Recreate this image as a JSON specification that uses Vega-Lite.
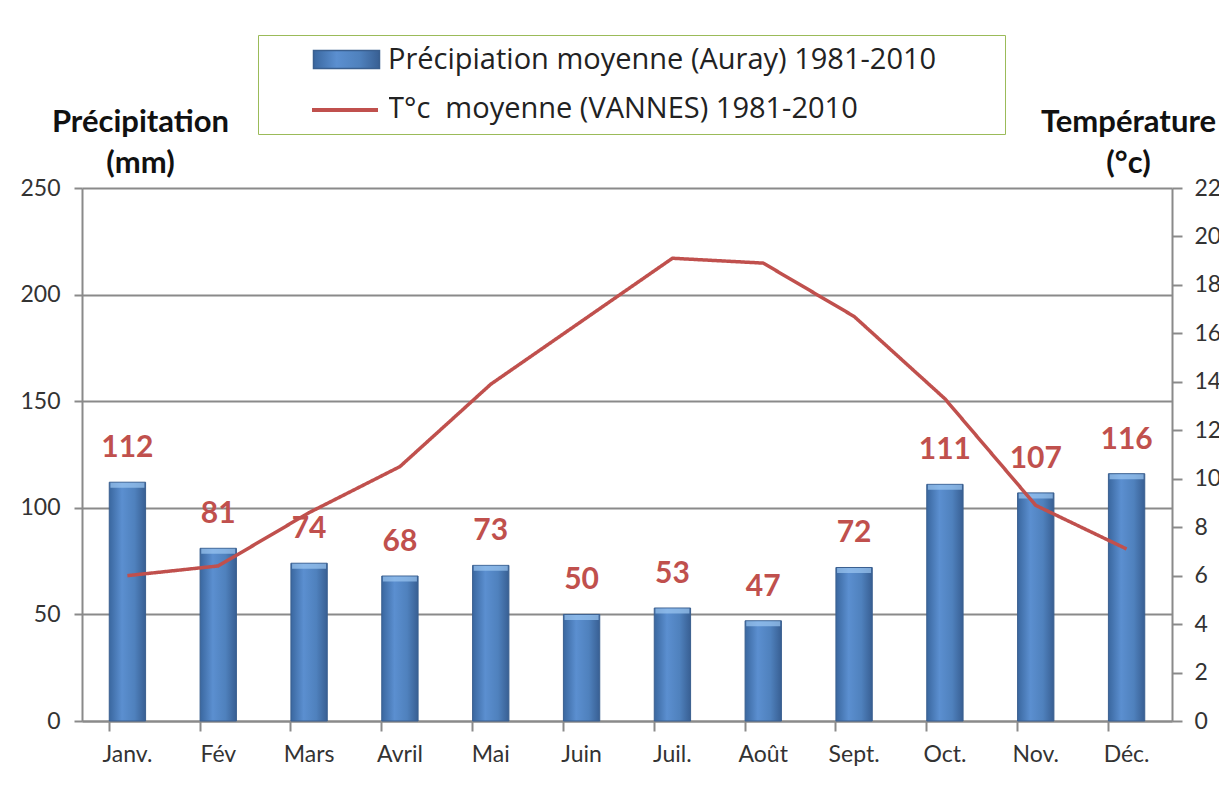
{
  "$schema": "https://vega.github.io/schema/vega-lite/v6.json",
  "autosize": {"type": "none"},
  "padding": {"left": 82, "top": 188, "right": 47, "bottom": 77},
  "width": 1090,
  "height": 533,
  "background": "white",
  "config": {
    "font": "Lato",
    "view": {"stroke": null},
    "axis": {
      "labelFont": "Lato",
      "labelFontSize": 23,
      "labelColor": "#333333",
      "domainColor": "#8a8a8a",
      "domainWidth": 2,
      "tickColor": "#8a8a8a",
      "tickWidth": 2,
      "gridColor": "#8a8a8a",
      "gridWidth": 2,
      "titleFont": "Lato",
      "titleFontSize": 31,
      "titleFontWeight": "bold",
      "titleColor": "#111111"
    }
  },
  "data": {
    "values": [
      {"mois": "Janv.", "precip": 112, "temp": 6.0},
      {"mois": "Fév", "precip": 81, "temp": 6.4},
      {"mois": "Mars", "precip": 74, "temp": 8.6},
      {"mois": "Avril", "precip": 68, "temp": 10.5},
      {"mois": "Mai", "precip": 73, "temp": 13.9},
      {"mois": "Juin", "precip": 50, "temp": 16.5},
      {"mois": "Juil.", "precip": 53, "temp": 19.1},
      {"mois": "Août", "precip": 47, "temp": 18.9},
      {"mois": "Sept.", "precip": 72, "temp": 16.7},
      {"mois": "Oct.", "precip": 111, "temp": 13.3},
      {"mois": "Nov.", "precip": 107, "temp": 8.9},
      {"mois": "Déc.", "precip": 116, "temp": 7.1}
    ]
  },
  "encoding": {
    "x": {
      "field": "mois",
      "type": "nominal",
      "sort": null,
      "scale": {"paddingInner": 0.6, "paddingOuter": 0.3},
      "axis": {
        "title": null,
        "labelAngle": 0,
        "bandPosition": 0,
        "tickSize": 10,
        "labelPadding": 12,
        "grid": false
      }
    }
  },
  "layer": [
    {
      "encoding": {
        "y": {
          "field": "precip",
          "type": "quantitative",
          "scale": {"domain": [0, 250], "nice": false},
          "axis": {
            "title": ["Précipitation", "(mm)"],
            "titleAngle": 0,
            "titleAlign": "center",
            "titleBaseline": "alphabetic",
            "titleX": 58,
            "titleY": -57,
            "titleLineHeight": 41,
            "values": [0, 50, 100, 150, 200, 250],
            "tickSize": 8,
            "labelPadding": 14,
            "grid": true
          }
        }
      },
      "layer": [
        {
          "mark": {
            "type": "bar",
            "strokeWidth": 1,
            "fill": {
              "gradient": "linear",
              "x1": 0, "x2": 1, "y1": 0, "y2": 0,
              "stops": [
                {"offset": 0, "color": "#3a679f"},
                {"offset": 0.35, "color": "#5b8fd0"},
                {"offset": 0.7, "color": "#4f81bd"},
                {"offset": 1, "color": "#385f93"}
              ]
            }
          },
          "encoding": {
            "stroke": {
              "datum": "Précipiation moyenne (Auray) 1981-2010",
              "type": "nominal",
              "scale": {
                "domain": ["Précipiation moyenne (Auray) 1981-2010", "T°c\u00a0 moyenne (VANNES) 1981-2010"],
                "range": ["#3a5f8f", "#c0504d"]
              },
              "legend": {
                "orient": "none",
                "legendX": 176,
                "legendY": -153,
                "title": "\u00a0",
                "titleOrient": "right",
                "titleFontSize": 1,
                "titlePadding": 59,
                "padding": 10,
                "strokeColor": "#9bbb59",
                "symbolType": "M-3.667,-1H3.667V1H-3.667Z",
                "symbolSize": 324,
                "symbolOffset": 64,
                "labelOffset": 27,
                "labelFont": "Open Sans",
                "labelFontSize": 29,
                "labelColor": "#222222",
                "labelLimit": 800,
                "rowPadding": 19
              }
            }
          }
        },
        {
          "mark": {"type": "tick", "color": "#9cc8f2", "thickness": 5, "size": 34, "yOffset": 3},
          "encoding": {}
        },
        {
          "mark": {
            "type": "text",
            "dy": -34,
            "baseline": "middle",
            "fontSize": 30,
            "fontWeight": "bold",
            "color": "#c0504d",
            "font": "Lato"
          },
          "encoding": {
            "text": {"field": "precip", "type": "quantitative"}
          }
        }
      ]
    },
    {
      "mark": {"type": "line", "strokeWidth": 3.5, "color": "#c0504d"},
      "encoding": {
        "y": {
          "field": "temp",
          "type": "quantitative",
          "scale": {"domain": [0, 22], "nice": false},
          "axis": {
            "orient": "right",
            "title": ["Température", "(°c)"],
            "titleAngle": 0,
            "titleAlign": "center",
            "titleBaseline": "alphabetic",
            "titleX": -44,
            "titleY": -57,
            "titleLineHeight": 41,
            "values": [0, 2, 4, 6, 8, 10, 12, 14, 16, 18, 20, 22],
            "tickSize": 10,
            "labelPadding": 12,
            "grid": false
          }
        },
        "strokeDash": {
          "datum": "T°c\u00a0 moyenne (VANNES) 1981-2010",
          "type": "nominal",
          "scale": {"range": [[1, 0]]},
          "legend": {
            "orient": "none",
            "legendX": 230,
            "legendY": -91,
            "title": null,
            "padding": 2,
            "fillColor": "white",
            "symbolType": "M-3.667,0H3.667",
            "symbolSize": 324,
            "symbolOffset": 20,
            "symbolStrokeColor": "#c0504d",
            "symbolStrokeWidth": 4,
            "labelOpacity": 0,
            "labelFontSize": 1,
            "labelOffset": 4,
            "labelLimit": 1
          }
        }
      }
    }
  ],
  "resolve": {"scale": {"y": "independent"}}
}
